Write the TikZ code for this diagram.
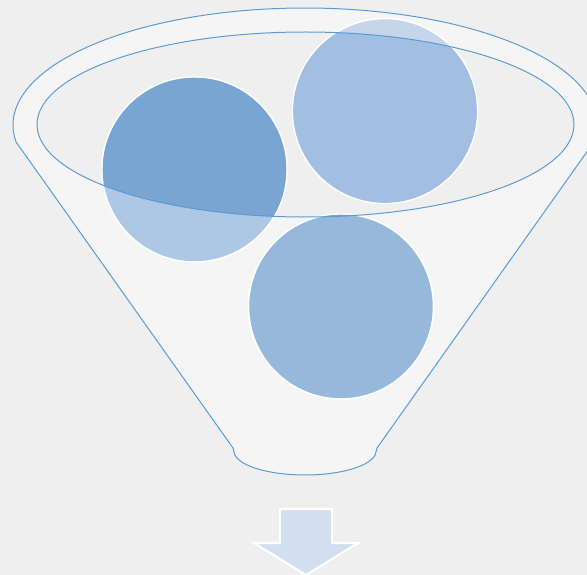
\documentclass[tikz,border=0pt]{standalone}
\definecolor{bgc}{HTML}{EFEFEF}
\definecolor{funnelc}{HTML}{F5F5F5}
\definecolor{linec}{RGB}{91,155,213}
\definecolor{cAin}{HTML}{79A5D2}
\definecolor{cAout}{HTML}{ADC7E4}
\definecolor{cBin}{HTML}{A2BFE2}
\definecolor{cBout}{HTML}{C5D6EB}
\definecolor{cCin}{HTML}{7EA7D2}
\definecolor{cCout}{HTML}{96B8DB}
\definecolor{arrowc}{HTML}{D3DEEF}
\begin{document}
\begin{tikzpicture}[x=1pt,y=-1pt,
  ball/.style={circle, minimum size=185pt, inner sep=0pt, draw=white, line width=1.5pt},
  rim/.style={draw=linec, line width=1pt}]
\useasboundingbox (0,0) rectangle (587,575);
\clip (0,0) rectangle (587,575);
\fill[bgc] (0,0) rectangle (587,575);
% funnel body
\path[fill=funnelc, rim, line join=round]
  plot[domain=171.65:368.35,samples=150] ({305+292*cos(\x)},{125+117*sin(\x)})
  -- (377,448)
  -- plot[domain=8:172,samples=60] ({305+71*cos(\x)},{451+24*sin(\x)})
  -- (233,448)
  -- cycle;
% inner opening
\fill[bgc] (305.5,124.5) ellipse [x radius=268.5pt, y radius=92.5pt];
% balls (outer colours)
\node[ball, fill=cAout] (b1) at (194.5,169.5) {};
\node[ball, fill=cBout] (b2) at (385,111) {};
\node[ball, fill=cCout] (b3) at (341,306.5) {};
% parts inside the opening
\begin{scope}
  \clip (305.5,124.5) ellipse [x radius=268.5pt, y radius=92.5pt];
  \fill[cAin] (b1.center) circle [radius=91.8pt];
  \fill[cBin] (b2.center) circle [radius=91.8pt];
  \fill[cCin] (b3.center) circle [radius=91.8pt];
\end{scope}
% rims on top
\draw[rim] (305.5,124.5) ellipse [x radius=268.5pt, y radius=92.5pt];
% arrow
\path[fill=arrowc, draw=white, line width=2pt]
  (280,509) -- (332,509) -- (332,543) -- (358,543) -- (306,575)
  -- (254,543) -- (280,543) -- cycle;
\end{tikzpicture}
\end{document}
